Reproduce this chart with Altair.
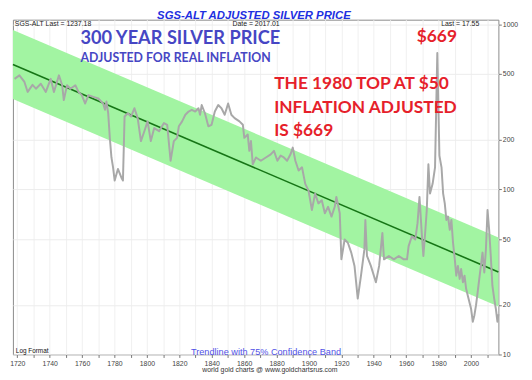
import altair as alt
import pandas as pd

# ---- silver price series (inflation adjusted) ----
years = [1718.3, 1721.3, 1724.4, 1726.4, 1729.4, 1731.5, 1734.5, 1737.6, 1740.6, 1742.6,
         1745.7, 1747.7, 1748.7, 1750.7, 1752.8, 1755.8, 1757.8, 1759.8, 1761.9, 1763.9,
         1766.9, 1770.0, 1773.0, 1774.1, 1775.0, 1776.1, 1777.1, 1778.1, 1779.1, 1780.1,
         1782.1, 1784.2, 1785.2, 1786.2, 1788.2, 1790.2, 1792.3, 1794.3, 1796.3, 1798.4,
         1800.4, 1802.4, 1804.5, 1807.5, 1810.5, 1812.5, 1814.6, 1816.6, 1818.6, 1819.7,
         1821.7, 1823.7, 1825.7, 1827.7, 1829.8, 1831.8, 1832.8, 1833.8, 1835.8, 1837.9,
         1839.9, 1841.9, 1844.0, 1846.0, 1848.0, 1850.1, 1852.1, 1854.1, 1857.1, 1859.2,
         1860.1, 1862.2, 1863.2, 1864.2, 1865.3, 1867.3, 1870.3, 1873.4, 1876.4, 1878.4,
         1880.5, 1882.5, 1884.5, 1886.5, 1888.6, 1890.0, 1891.6, 1893.6, 1895.7, 1897.7,
         1899.7, 1901.8, 1903.8, 1905.8, 1907.9, 1909.8, 1911.8, 1913.9, 1915.9, 1916.9,
         1919.0, 1920.0, 1922.0, 1924.0, 1926.1, 1928.1, 1930.1, 1932.1, 1934.2, 1934.8,
         1935.8, 1938.2, 1941.3, 1943.3, 1945.3, 1946.3, 1949.3, 1952.4, 1955.4, 1958.5,
         1960.5, 1961.5, 1963.5, 1965.6, 1967.0, 1968.2, 1969.6, 1970.6, 1971.7, 1972.7,
         1973.7, 1974.7, 1976.3, 1977.8, 1979.2, 1980.5, 1981.8, 1982.8, 1983.8, 1984.8,
         1985.8, 1986.9, 1987.9, 1988.9, 1990.0, 1990.9, 1991.9, 1993.0, 1993.9, 1995.0,
         1996.0, 1997.0, 1998.0, 2000.0, 2001.1, 2002.1, 2003.1, 2004.1, 2005.1, 2006.1,
         2007.1, 2008.2, 2009.2, 2010.2, 2011.2, 2012.2, 2013.2, 2014.3, 2015.3, 2016.3,
         2016.9]
prices = [467, 490, 447, 389, 429, 407, 436, 389, 467, 389,
          490, 427, 347, 427, 407, 427, 389, 372, 331, 372,
          363, 355, 331, 303, 340, 289, 205, 156, 136, 113,
          133, 118, 113, 276, 289, 276, 310, 270, 196, 225,
          258, 196, 235, 225, 252, 246, 149, 196, 205, 241,
          258, 283, 296, 303, 296, 310, 283, 324, 289, 241,
          246, 296, 324, 310, 283, 331, 283, 270, 258, 246,
          205, 215, 171, 196, 142, 156, 149, 156, 163, 171,
          149, 160, 156, 149, 163, 179, 149, 130, 136, 108,
          98.6, 75, 94.3, 82.2, 86, 71.6, 78.4, 68.4, 78.4, 90,
          71.6, 37.7, 49.7, 47.5, 41.4, 34.4, 21.8, 30.0, 43.3, 65.3,
          39.5, 34.4, 27.4, 34.4, 54.4, 37.7, 39.5, 37.7, 39.5, 37.7,
          37.7, 45.3, 52, 49.7, 62.4, 90, 54.4, 39.5, 54.4, 75,
          142, 94.3, 108, 136, 669, 160, 136, 94.3, 82.2, 65.3,
          68.4, 56.9, 65.3, 47.5, 37.7, 30.0, 34.4, 28.7, 32.9, 27.4,
          30.0, 25.0, 22.8, 19.0, 15.8, 17.3, 19.9, 23.9, 28.7, 34.4,
          41.4, 31.4, 43.3, 75, 56.9, 39.5, 26.1, 21.8, 19.0, 15.8,
          17.55]

# ---- trendline and 75% confidence band ----
trend_years = [1717.3, 2016.9]
trend_values = [571, 31.6]
band_upper = [924, 51.1]
band_lower = [353, 19.5]

# ---- axes ----
x_ticks = list(range(1720, 2011, 10))
y_ticks = [10, 20, 50, 100, 200, 500, 1000]
x_domain = [1717.3, 2016.9]
y_domain = [10, 1065]

xs = alt.Scale(domain=x_domain, nice=False, zero=False)
ys = alt.Scale(type="log", domain=y_domain, nice=False)

x_axis = alt.Axis(values=x_ticks, labelExpr="datum.value % 20 == 0 ? '' + datum.value : ''",
                  title=None, domain=False, tickSize=3, tickColor="#777777",
                  labelFont="Liberation Sans", labelFontSize=7, labelColor="#444444",
                  labelPadding=2, labelOverlap=False, labelFlush=False,
                  grid=True, gridColor="#f0f0f0", gridWidth=1)
y_axis = alt.Axis(orient="right", values=y_ticks, format="d",
                  title=None, domain=False, tickSize=3, tickColor="#777777",
                  labelFont="Liberation Sans", labelFontSize=7, labelColor="#444444",
                  labelPadding=1, labelOverlap=False, labelFlush=False,
                  grid=True, gridColor="#ececec", gridWidth=1)


def X(f):
    return alt.X(f"{f}:Q", scale=xs, axis=x_axis)


def Y(f):
    return alt.Y(f"{f}:Q", scale=ys, axis=y_axis)


price_df = pd.DataFrame({"year": years, "price": prices})
trend_df = pd.DataFrame({"year": trend_years, "trend": trend_values,
                         "upper": band_upper, "lower": band_lower})

band = alt.Chart(trend_df).mark_area(color="#a2f4a2", opacity=1).encode(
    x=X("year"), y=Y("upper"), y2=alt.Y2("lower:Q"))
trend = alt.Chart(trend_df).mark_line(color="#167516", strokeWidth=1.6).encode(
    x=X("year"), y=Y("trend"))
price = alt.Chart(price_df).mark_line(color="#a8a8a8", strokeWidth=2, strokeJoin="round").encode(
    x=X("year"), y=Y("price"))


def txt(labels, xs_, ys_, **kw):
    df = pd.DataFrame({"tx": xs_, "ty": ys_, "label": labels})
    return alt.Chart(df).mark_text(**kw).encode(x=X("tx"), y=Y("ty"), text="label:N")


title = txt(["SGS-ALT ADJUSTED  SILVER PRICE"], [1866.0], [1075],
            font="Liberation Sans", fontSize=11.5, fontWeight="bold", fontStyle="italic",
            color="#1e2fe0", align="center", baseline="alphabetic")
header = txt(["SGS-ALT Last = 1237.18", "Date = 2017.01", "Last = 17.55"],
             [1718.5, 1852.8, 1981.6], [982, 982, 982],
             font="Liberation Sans", fontSize=7, color="#222222", align="left",
             baseline="alphabetic")
blue_big = txt(["300 YEAR SILVER PRICE"], [1759.0], [759],
               font="Lato", fontSize=18.5, fontWeight="bold", color="#4646c4",
               align="left", baseline="alphabetic")
blue_small = txt(["ADJUSTED FOR REAL INFLATION"], [1759.0], [590],
                 font="Lato", fontSize=12.5, fontWeight="bold", color="#4646c4",
                 align="left", baseline="alphabetic")
red = txt(["THE 1980 TOP AT $50", "INFLATION ADJUSTED", "IS $669"],
          [1878.5, 1878.5, 1878.5], [407, 289, 209],
          font="Lato", fontSize=17.6, fontWeight="bold", color="#e61f2b",
          align="left", baseline="alphabetic")
peak_label = txt(["$669"], [1966.5], [780],
                 font="Lato", fontSize=17.6, fontWeight="bold", color="#e61f2b",
                 align="left", baseline="alphabetic")
logfmt = txt(["Log Format"], [1719.1], [10.18],
             font="Liberation Sans", fontSize=6.5, color="#111111", align="left",
             baseline="alphabetic")
trendnote = txt(["Trendline with 75% Confidence Band"], [1873.5], [9.95],
                font="Liberation Sans", fontSize=9.3, color="#5050e6", align="center",
                baseline="alphabetic")
credit = txt(["world gold charts @ www.goldchartsrus.com"], [1875.9], [7.81],
             font="Liberation Sans", fontSize=7, color="#333333", align="center",
             baseline="alphabetic")

chart = alt.layer(band, trend, price, title, header, blue_big, blue_small, red, peak_label,
                  logfmt, trendnote, credit).properties(
    width=493, height=340,
    autosize=alt.AutoSizeParams(type="none"),
    padding={"left": 5, "top": 9, "right": 26, "bottom": 22},
    background="white",
).configure_view(stroke="#8a8a8a", strokeWidth=1)

chart.save("out.html", embed_options={"renderer": "svg", "actions": False})
